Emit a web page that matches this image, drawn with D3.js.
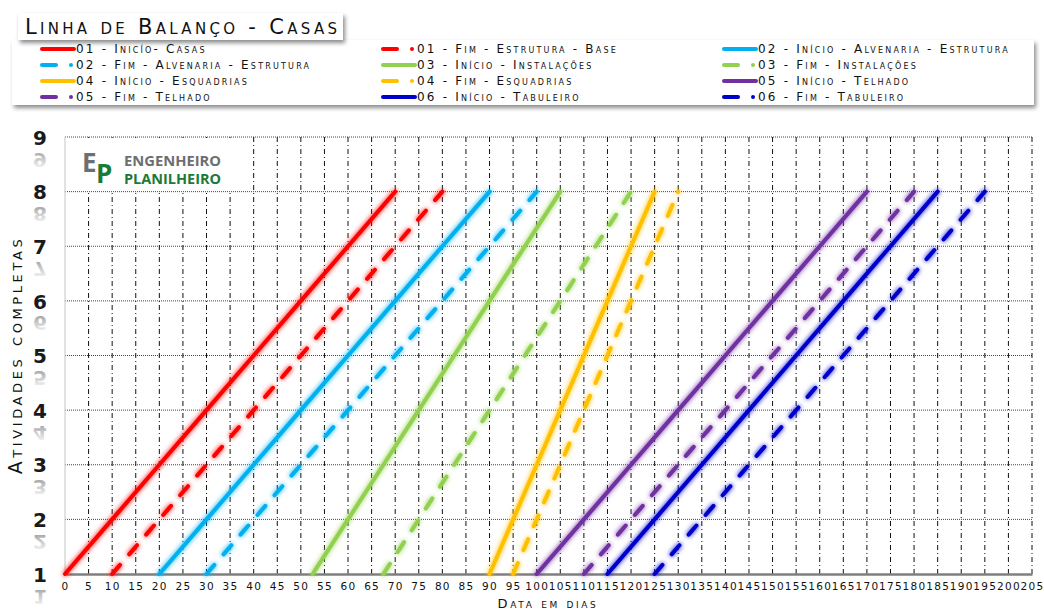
<!DOCTYPE html>
<html><head><meta charset="utf-8">
<script src="https://cdn.jsdelivr.net/npm/d3@7"></script>
<style>
body{margin:0;background:#fff;}
svg{display:block;}
.sc{font-family:"DejaVu Sans",sans-serif;font-variant:small-caps;}
</style></head>
<body><svg id="c" width="1044" height="610"></svg>
<script>
// ---- data ----
const levels = [1,2,3,4,5,6,7,8];
const xTicks = [0,5,10,15,20,25,30,35,40,45,50,55,60,65,70,75,80,85,90,95,100,105,110,115,120,125,130,135,140,145,150,155,160,165,170,175,180,185,190,195,200,205];
const yTicks = [1,2,3,4,5,6,7,8,9];
const seriesNames = ["01 - Inicío- Casas","01 - Fim - Estrutura - Base","02 - Início - Alvenaria - Estrutura","02 - Fim - Alvenaria - Estrutura","03 - Início - Instalações","03 - Fim - Instalações","04 - Início - Esquadrias","04 - Fim - Esquadrias","05 - Início - Telhado","05 - Fim - Telhado","06 - Início - Tabuleiro","06 - Fim - Tabuleiro"];
const s01Inicio = [0,10,20,30,40,50,60,70];
const s01Fim = [10,20,30,40,50,60,70,80];
const s02Inicio = [20,30,40,50,60,70,80,90];
const s02Fim = [30,40,50,60,70,80,90,100];
const s03Inicio = [52.5,60,67.5,75,82.5,90,97.5,105];
const s03Fim = [67.5,75,82.5,90,97.5,105,112.5,120];
const s04Inicio = [90,95,100,105,110,115,120,125];
const s04Fim = [95,100,105,110,115,120,125,130];
const s05Inicio = [100,110,120,130,140,150,160,170];
const s05Fim = [110,120,130,140,150,160,170,180];
const s06Inicio = [115,125,135,145,155,165,175,185];
const s06Fim = [125,135,145,155,165,175,185,195];
const seriesValues = [s01Inicio,s01Fim,s02Inicio,s02Fim,s03Inicio,s03Fim,s04Inicio,s04Fim,s05Inicio,s05Fim,s06Inicio,s06Fim];
const seriesColors = ["#ff0000","#ff0000","#00b0f0","#00b0f0","#92d050","#92d050","#ffc000","#ffc000","#7030a0","#7030a0","#0000cd","#0000cd"];
const seriesDashed = [false,true,false,true,false,true,false,true,false,true,false,true];
const title = "Linha de Balanço - Casas";
const xTitle = "Data em dias";
const yTitle = "Atividades completas";

// ---- chart ----
const svg = d3.select("#c");
const defs = svg.append("defs");
const glow = defs.append("filter").attr("id","glow").attr("filterUnits","userSpaceOnUse")
  .attr("x",0).attr("y",0).attr("width",1044).attr("height",610);
glow.append("feGaussianBlur").attr("in","SourceGraphic").attr("stdDeviation",2.4).attr("result","b");
const gm = glow.append("feMerge");
gm.append("feMergeNode").attr("in","b");
gm.append("feMergeNode").attr("in","SourceGraphic");

const shadow = defs.append("filter").attr("id","shadow").attr("x","-5%").attr("y","-20%").attr("width","110%").attr("height","160%");
shadow.append("feDropShadow").attr("dx",2).attr("dy",3).attr("stdDeviation",2).attr("flood-color","#000").attr("flood-opacity",0.45);

const refl = defs.append("linearGradient").attr("id","refl").attr("x1",0).attr("y1",0).attr("x2",0).attr("y2",1);
refl.append("stop").attr("offset","0").attr("stop-color","#999").attr("stop-opacity",0);
refl.append("stop").attr("offset","1").attr("stop-color","#777").attr("stop-opacity",0.85);

const x = d3.scaleLinear().domain([0,205]).range([65,1032]);
const y = d3.scaleLinear().domain([1,9]).range([574,137]);

// grid
const grid = svg.append("g");
grid.selectAll("line.h").data(yTicks.filter(d=>d>1)).join("line")
  .attr("x1",x(0)).attr("x2",x(205)).attr("y1",d=>y(d)).attr("y2",d=>y(d))
  .attr("stroke","#444").attr("stroke-width",1).attr("stroke-dasharray","1,1");
grid.selectAll("line.v").data(xTicks.filter(d=>d>0)).join("line")
  .attr("x1",d=>x(d)).attr("x2",d=>x(d)).attr("y1",y(9)).attr("y2",y(1))
  .attr("stroke","#111").attr("stroke-width",1).attr("stroke-dasharray","5,3,1,3");

// axes
svg.append("line").attr("x1",x(0)).attr("x2",x(0)).attr("y1",y(9)).attr("y2",y(1)).attr("stroke","#cfcfcf").attr("stroke-width",1.2);
const xAxis = svg.append("g").attr("transform",`translate(0,${y(1)})`)
  .call(d3.axisBottom(x).tickValues(xTicks).tickSize(0).tickPadding(9).tickFormat(d3.format("d")));
xAxis.select(".domain").attr("stroke","#7f7f7f").attr("stroke-width",2.5);
xAxis.selectAll("text").attr("font-family","DejaVu Sans, sans-serif").attr("font-size",10.5).attr("letter-spacing",1.3).attr("fill","#111");

const yAxis = svg.append("g").attr("transform",`translate(${x(0)},0)`)
  .call(d3.axisLeft(y).tickValues(yTicks).tickSize(0).tickPadding(20).tickFormat(d3.format("d")));
yAxis.select(".domain").remove();
yAxis.selectAll(".tick").each(function(d){
  const t = d3.select(this);
  t.select("text").attr("font-family","DejaVu Sans, sans-serif").attr("font-weight","bold")
     .attr("font-size",20).attr("fill","#1a1a1a").attr("dy","0.36em").attr("text-anchor","middle").attr("x",-25);
  t.insert("text","text").text(d).attr("font-family","DejaVu Sans, sans-serif").attr("font-weight","bold")
     .attr("font-size",20).attr("text-anchor","middle").attr("fill","url(#refl)")
     .attr("transform","translate(-25,14) scale(1,-1)").attr("y",-1);
});

// logo
const logo = svg.append("g");
logo.append("rect").attr("x",70).attr("y",138).attr("width",163).attr("height",52).attr("fill","#fff");
logo.append("text").attr("x",82).attr("y",172).text("E").attr("font-family","Open Sans, sans-serif").attr("font-weight","bold").attr("font-size",26).attr("fill","#6d6e71");
logo.append("text").attr("x",96).attr("y",183).text("P").attr("font-family","Open Sans, sans-serif").attr("font-weight","bold").attr("font-size",26).attr("fill","#1a7a3a");
logo.append("text").attr("x",124).attr("y",166).text("ENGENHEIRO").attr("font-family","Open Sans, sans-serif").attr("font-weight","bold").attr("font-size",15).attr("textLength",97).attr("lengthAdjust","spacingAndGlyphs").attr("fill","#6d6e71");
logo.append("text").attr("x",124).attr("y",184).text("PLANILHEIRO").attr("font-family","Open Sans, sans-serif").attr("font-weight","bold").attr("font-size",15).attr("textLength",97).attr("lengthAdjust","spacingAndGlyphs").attr("fill","#1a7a3a");

// series lines
const line = d3.line().x(d=>x(d[0])).y(d=>y(d[1]));
const lg = svg.append("g");
seriesValues.forEach((vals,i)=>{
  const pts = vals.map((v,k)=>[v,levels[k]]);
  lg.append("path").attr("d",line(pts)).attr("fill","none")
    .attr("stroke",seriesColors[i]).attr("stroke-width",4)
    .attr("stroke-linecap","round")
    .attr("stroke-dasharray",seriesDashed[i]?"12,14":null)
    .attr("filter","url(#glow)");
});

// axis titles
svg.append("text").attr("class","sc").attr("x",548).attr("y",608).attr("text-anchor","middle")
  .attr("font-size",13).attr("letter-spacing",2.6).attr("fill","#111").text(xTitle);
svg.append("text").attr("class","sc").attr("transform","translate(22,355) rotate(-90)").attr("text-anchor","middle")
  .attr("font-size",19).attr("letter-spacing",3.6).attr("fill","#111").text(yTitle);

// legend box
svg.append("rect").attr("x",12).attr("y",40).attr("width",1022).attr("height",65).attr("fill","#fff").attr("filter","url(#shadow)");
const cols = [42,383,724];
const rows = [49,65,81,97];
const leg = svg.append("g");
seriesNames.forEach((nm,i)=>{
  const cx = cols[i%3], cy = rows[Math.floor(i/3)];
  const g = leg.append("g").attr("transform",`translate(${cx},${cy})`);
  if(seriesDashed[i]){
    g.append("line").attr("x1",0).attr("x2",14).attr("y1",0).attr("y2",0).attr("stroke",seriesColors[i]).attr("stroke-width",4).attr("stroke-linecap","round");
    g.append("circle").attr("cx",29).attr("cy",0).attr("r",2).attr("fill",seriesColors[i]);
  } else {
    g.append("line").attr("x1",0).attr("x2",32).attr("y1",0).attr("y2",0).attr("stroke",seriesColors[i]).attr("stroke-width",4).attr("stroke-linecap","round");
  }
  g.append("text").attr("class","sc").attr("x",34).attr("y",0).attr("dy","0.35em")
    .attr("font-size",12).attr("letter-spacing",2.2).attr("fill","#111").text(nm);
});

// title box
svg.append("rect").attr("x",18).attr("y",13).attr("width",325).attr("height",27).attr("fill","#fff").attr("filter","url(#shadow)");
svg.append("text").attr("class","sc").attr("x",25).attr("y",34).attr("font-size",21)
  .attr("textLength",312).attr("lengthAdjust","spacing").attr("fill","#111").text(title);
</script></body></html>
